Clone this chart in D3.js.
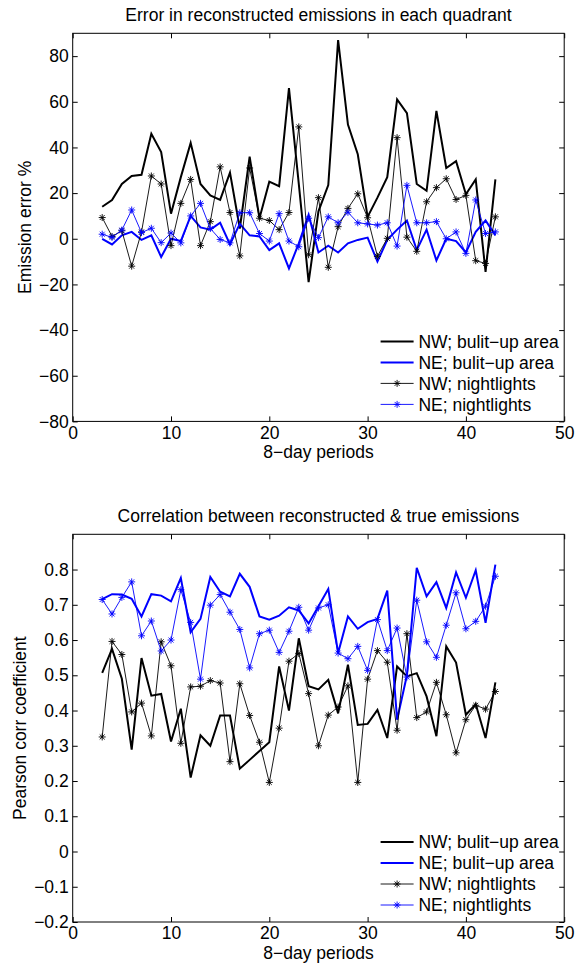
<!DOCTYPE html>
<html>
<head>
<meta charset="utf-8">
<script src="https://cdn.jsdelivr.net/npm/d3@7"></script>
<style>
  body { margin: 0; background: #fff; }
  svg text { font-family: "Liberation Sans", Arial, Helvetica, sans-serif; font-size: 17.5px; fill: #000; }
</style>
</head>
<body>
<div id="chart"></div>
<script>
// 8-day periods on the x axis
var periods = [3, 4, 5, 6, 7, 8, 9, 10, 11, 12, 13, 14, 15, 16, 17, 18, 19, 20, 21, 22, 23,
               24, 25, 26, 27, 28, 29, 30, 31, 32, 33, 34, 35, 36, 37, 38, 39, 40, 41, 42, 43];

// top panel: emission error %
var err_nw_builtup = [14, 17, 24, 27.5, 28, 46, 38, 11, 27, 42,
                      24, 19, 17, 29, 4.5, 36, 9, 25, 23, 66,
                      24, -19, 12, 23.5, 87, 50, 37, 9.6, 18, 27,
                      61, 55, 24, 21, 56, 31, 34, 19.5, 26, -14.5,
                      26];
var err_ne_builtup = [0, -2.5, 1.5, 3, -0.5, 1.5, -8, 0, -1, 10,
                      5, 4, 7, -2.5, 6.5, 1.5, 1, -5, -2, -13,
                      -2, 10.5, -6, -3, -6, -2, -0.5, 0.5, -10, -0.5,
                      4, 8, -5, 4, -9.5, 0, -1, -6, 3, 8,
                      1.5];
var err_nw_lights  = [9.3, 1, 3.5, -12, 3, 27.5, 24, -3, 15.5, 26,
                      -3, 7.5, 31.5, 11.5, -7.5, 31, 9, 8, 4, 11.5,
                      49, -7, 18, -12.5, 5.3, 13.3, 19.7, 9.2, -7.7, 0.2,
                      44.3, 0.7, -5.5, 16.2, 22.4, 26.3, 17.2, 19, -9.6, -10.8,
                      9.6];
var err_ne_lights  = [2, 0.6, 3.8, 12.6, 2.7, 4.6, -1.7, 2.5, -1.8, 10,
                      15.5, 4.5, -0.3, -1.8, 11.4, 11.4, 2.3, -1, 11, -1,
                      -3.5, 9, 0.5, 9.6, 7, 11.6, 7, 6.5, 6, 7,
                      -3.2, 23.4, 7, 7, 7.5, 0, 3, -6.4, 17, 2.3,
                      3];

// bottom panel: pearson correlation
var corr_nw_builtup = [0.507, 0.575, 0.49, 0.289, 0.549, 0.442, 0.447, 0.312, 0.405, 0.21,
                       0.33, 0.30, 0.386, 0.386, 0.235, 0.26, 0.285, 0.31, 0.525, 0.40,
                       0.605, 0.469, 0.46, 0.487, 0.392, 0.53, 0.359, 0.362, 0.402, 0.322,
                       0.525, 0.497, 0.506, 0.44, 0.327, 0.582, 0.536, 0.388, 0.418, 0.322,
                       0.48];
var corr_ne_builtup = [0.716, 0.73, 0.729, 0.717, 0.667, 0.73, 0.726, 0.71, 0.776, 0.622,
                       0.66, 0.779, 0.737, 0.724, 0.788, 0.751, 0.667, 0.658, 0.669, 0.693,
                       0.684, 0.647, 0.696, 0.745, 0.563, 0.667, 0.632, 0.651, 0.66, 0.74,
                       0.374, 0.5, 0.805, 0.724, 0.764, 0.691, 0.792, 0.72, 0.798, 0.649,
                       0.814];
var corr_nw_lights  = [0.325, 0.596, 0.559, 0.396, 0.421, 0.328, 0.595, 0.527, 0.307, 0.467,
                       0.469, 0.485, 0.478, 0.255, 0.476, 0.386, 0.31, 0.196, 0.35, 0.54,
                       0.562, 0.448, 0.30, 0.387, 0.41, 0.47, 0.196, 0.489, 0.57, 0.537,
                       0.344, 0.618, 0.38, 0.396, 0.48, 0.388, 0.28, 0.374, 0.415, 0.404,
                       0.454];
var corr_ne_lights  = [0.715, 0.674, 0.721, 0.765, 0.612, 0.654, 0.569, 0.60, 0.743, 0.65,
                       0.489, 0.699, 0.729, 0.679, 0.63, 0.521, 0.618, 0.628, 0.565, 0.625,
                       0.693, 0.628, 0.691, 0.70, 0.563, 0.547, 0.582, 0.514, 0.658, 0.57,
                       0.634, 0.495, 0.713, 0.595, 0.551, 0.642, 0.734, 0.632, 0.653, 0.696,
                       0.781];

var legend_labels = ["NW; bulit\u2212up area", "NE; bulit\u2212up area", "NW; nightlights", "NE; nightlights"];
var x_ticks = [0, 10, 20, 30, 40, 50];
var y_ticks_err = [-80, -60, -40, -20, 0, 20, 40, 60, 80];
var y_ticks_corr = [-0.2, -0.1, 0, 0.1, 0.2, 0.3, 0.4, 0.5, 0.6, 0.7, 0.8];

var width_fig  = 581;
var height_fig = 964;
var axes_left  = 72.7;
var axes_right = 564.2;

var svg = d3.select("#chart").append("svg")
  .attr("width", width_fig)
  .attr("height", height_fig);

svg.append("rect").attr("width", width_fig).attr("height", height_fig).attr("fill", "#fff");

// matlab style asterisk marker
function star_path (r) {
  var a = r*0.7071;
  return "M" + (-r) + ",0L" + r + ",0M0," + (-r) + "L0," + r +
         "M" + (-a) + "," + (-a) + "L" + a + "," + a +
         "M" + (-a) + "," + a + "L" + a + "," + (-a);
}

function draw_panel (panel) {
  var x = d3.scaleLinear().domain([0, 50]).range([axes_left, axes_right]);
  var y = d3.scaleLinear().domain(panel.y_domain).range([panel.bottom, panel.top]);
  var g = svg.append("g");

  var ax_b = g.append("g").attr("transform", "translate(0," + panel.bottom + ")")
    .call(d3.axisBottom(x).tickValues(x_ticks).tickSize(-5).tickPadding(5).tickFormat(d3.format("d")));
  var ax_t = g.append("g").attr("transform", "translate(0," + panel.top + ")")
    .call(d3.axisTop(x).tickValues(x_ticks).tickSize(-5).tickFormat(""));
  var ax_l = g.append("g").attr("transform", "translate(" + axes_left + ",0)")
    .call(d3.axisLeft(y).tickValues(panel.y_ticks).tickSize(-5).tickPadding(4).tickFormat(d3.format("~g")));
  var ax_r = g.append("g").attr("transform", "translate(" + axes_right + ",0)")
    .call(d3.axisRight(y).tickValues(panel.y_ticks).tickSize(-5).tickFormat(""));
  [ax_b, ax_t, ax_l, ax_r].forEach(function (a) {
    a.attr("font-size", null).attr("font-family", null);
    a.select(".domain").remove();
  });

  g.append("rect")
    .attr("x", axes_left).attr("y", panel.top)
    .attr("width", axes_right - axes_left).attr("height", panel.bottom - panel.top)
    .attr("fill", "none").attr("stroke", "#000").attr("stroke-width", 1);

  var line = d3.line()
    .x(function (d, i) { return x(periods[i]); })
    .y(function (d) { return y(d); });

  panel.series.forEach(function (s) {
    g.append("path")
      .datum(s.values)
      .attr("d", line)
      .attr("fill", "none")
      .attr("stroke", s.color)
      .attr("stroke-width", s.width);
    if (s.marker) {
      g.selectAll(null)
        .data(s.values)
        .enter().append("path")
        .attr("d", star_path(3.5))
        .attr("transform", function (d, i) { return "translate(" + x(periods[i]) + "," + y(d) + ")"; })
        .attr("fill", "none")
        .attr("stroke", s.color)
        .attr("stroke-width", 0.9);
    }
  });

  // legend, no box
  panel.series.forEach(function (s, i) {
    var ly = panel.bottom - 17 - 21*(panel.series.length - 1 - i);
    g.append("line")
      .attr("x1", 380.6).attr("x2", 413.6).attr("y1", ly).attr("y2", ly)
      .attr("stroke", s.color).attr("stroke-width", s.width);
    if (s.marker) {
      g.append("path").attr("d", star_path(3.5))
        .attr("transform", "translate(397.1," + ly + ")")
        .attr("fill", "none").attr("stroke", s.color).attr("stroke-width", 0.9);
    }
    g.append("text").attr("x", 418.4).attr("y", ly).attr("dy", "0.35em").text(s.label);
  });

  g.append("text")
    .attr("x", (axes_left + axes_right)/2).attr("y", panel.top - 12)
    .attr("text-anchor", "middle").text(panel.title);
  g.append("text")
    .attr("x", (axes_left + axes_right)/2).attr("y", panel.bottom + 37)
    .attr("text-anchor", "middle").text("8\u2212day periods");
  g.append("text")
    .attr("transform", "translate(" + panel.ylabel_x + "," + (panel.top + panel.bottom)/2 + ") rotate(-90)")
    .attr("text-anchor", "middle").text(panel.ylabel);
}

draw_panel({
  top: 33.3, bottom: 421.4,
  y_domain: [-80, 90], y_ticks: y_ticks_err,
  title: "Error in reconstructed emissions in each quadrant",
  ylabel: "Emission error %", ylabel_x: 31,
  series: [
    {values: err_nw_builtup, color: "#000", width: 2, marker: false, label: legend_labels[0]},
    {values: err_ne_builtup, color: "#0000ff", width: 2, marker: false, label: legend_labels[1]},
    {values: err_nw_lights, color: "#000", width: 0.9, marker: true, label: legend_labels[2]},
    {values: err_ne_lights, color: "#0000ff", width: 0.9, marker: true, label: legend_labels[3]}
  ]
});

draw_panel({
  top: 534.3, bottom: 922,
  y_domain: [-0.2, 0.9], y_ticks: y_ticks_corr,
  title: "Correlation between reconstructed & true emissions",
  ylabel: "Pearson corr coefficient", ylabel_x: 26,
  series: [
    {values: corr_nw_builtup, color: "#000", width: 2, marker: false, label: legend_labels[0]},
    {values: corr_ne_builtup, color: "#0000ff", width: 2, marker: false, label: legend_labels[1]},
    {values: corr_nw_lights, color: "#000", width: 0.9, marker: true, label: legend_labels[2]},
    {values: corr_ne_lights, color: "#0000ff", width: 0.9, marker: true, label: legend_labels[3]}
  ]
});
</script>
</body>
</html>
